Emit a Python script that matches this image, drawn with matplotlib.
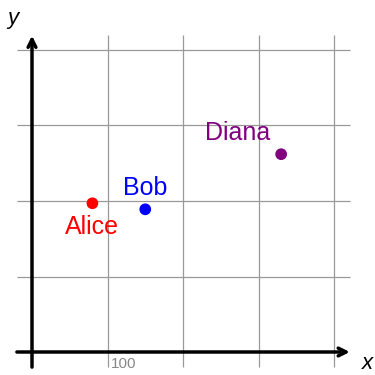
import matplotlib
matplotlib.use('Agg')
import matplotlib.pyplot as plt

# data
names = ['Alice', 'Bob', 'Diana']
xs = [80, 150, 330]
ys = [197, 189, 262]
colors = ['#ff0000', '#0000ff', '#800080']
grid_vals = [100, 200, 300, 400]
tick_label = '100'

plt.rcParams['font.family'] = ['Liberation Sans', 'DejaVu Sans']

fig = plt.figure(figsize=(3.75, 3.75), dpi=100)
ax = fig.add_axes([0, 0, 1, 1])
scale = 0.755  # pixels per data unit
ax.set_xlim(-32 / scale, (375 - 32) / scale)
ax.set_ylim(-(375 - 352) / scale, 352 / scale)
ax.axis('off')

# grid
ax.hlines(grid_vals, -20, 421, color='#999999', linewidth=0.9, zorder=1)
ax.vlines(grid_vals, -20, 420, color='#999999', linewidth=0.9, zorder=1)

# axes with arrows
arrow = dict(arrowstyle='->', color='black', linewidth=2.5, mutation_scale=14,
             shrinkA=0, shrinkB=0)
ax.annotate('', xy=(421, 0), xytext=(-20, 0), arrowprops=arrow, zorder=3)
ax.annotate('', xy=(0, 419), xytext=(0, -20), arrowprops=arrow, zorder=3)

ax.text(-26, 466 - 8 / scale, 'y', fontsize=16, style='italic', va='top', ha='center')
ax.text(444, -29, 'x', fontsize=16, style='italic', va='bottom', ha='center')
ax.text(105, -6, tick_label, fontsize=11, color='#888888', va='top', ha='left')

# points
ax.scatter(xs, ys, c=colors, s=55, zorder=4)

offsets = {'Alice': (0, -16, 'center', 'top'),
           'Bob': (0, 12, 'center', 'bottom'),
           'Diana': (-14, 12, 'right', 'bottom')}
for n, x, y, c in zip(names, xs, ys, colors):
    dx, dy, ha, va = offsets[n]
    ax.text(x + dx, y + dy, n, color=c, fontsize=18, ha=ha, va=va)

fig.savefig('out.png', dpi=100)
